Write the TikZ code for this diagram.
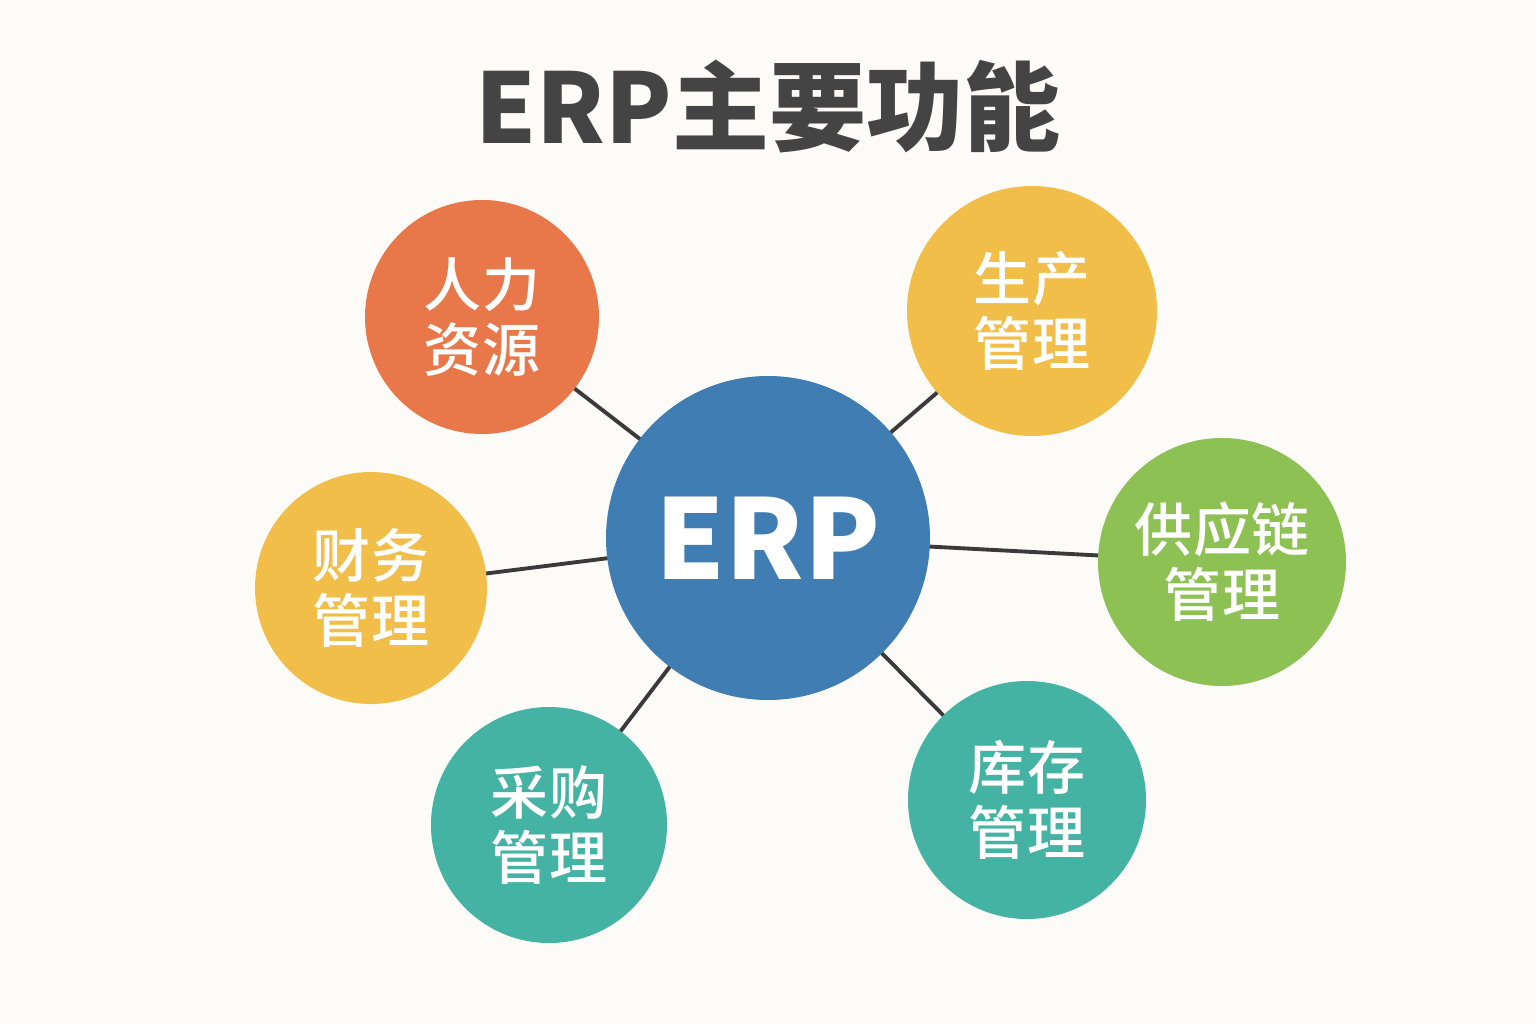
\documentclass[tikz,border=0pt]{standalone}
\usepackage{fontspec}
\newfontfamily\cjk{Noto Sans CJK SC}
\IfFontExistsTF{Noto Sans CJK SC Medium}
  {\newfontfamily\cjkmed{Noto Sans CJK SC Medium}}
  {\newcommand\cjkmed{\cjk\bfseries}}
\definecolor{bgc}{HTML}{FCFBF7}
\definecolor{orangec}{HTML}{E8784A}
\definecolor{yellowc}{HTML}{F2BE4A}
\definecolor{greenc}{HTML}{8DC153}
\definecolor{tealc}{HTML}{45B3A3}
\definecolor{bluec}{HTML}{3F7DB3}
\definecolor{titlec}{HTML}{444444}
\definecolor{linec}{HTML}{3A3A3A}
\begin{document}
\begin{tikzpicture}[x=0.01cm,y=-0.01cm,
  hub/.style={circle,fill=bluec,minimum size=324*0.01cm,inner sep=0pt,text=white,font=\cjk\bfseries\fontsize{31.5}{36}\selectfont},
  mod/.style={circle,inner sep=0pt,text=white,align=center,font=\cjkmed\fontsize{16.5}{18.5}\selectfont},
  link/.style={draw=linec,line width=1.1pt}]
\fill[bgc] (0,0) rectangle (1536,1024);
\useasboundingbox (0,0) rectangle (1536,1024);
\node[text=titlec,font=\cjk\bfseries\fontsize{27.6}{32}\selectfont] (title) at (768,107) {ERP主要功能};
\coordinate (c0) at (768,538);
\coordinate (c1) at (482,317);
\coordinate (c2) at (1032,311);
\coordinate (c3) at (371,588);
\coordinate (c4) at (1222,562);
\coordinate (c5) at (549,825);
\coordinate (c6) at (1027,800);
\draw[link] (c0) -- (c1);
\draw[link] (c0) -- (c2);
\draw[link] (c0) -- (c3);
\draw[link] (c0) -- (c4);
\draw[link] (c0) -- (c5);
\draw[link] (c0) -- (c6);
\node[hub] (erp) at (c0) {ERP};
\node[mod,fill=orangec,minimum size=234*0.01cm] (hr) at (c1) {人力\\资源};
\node[mod,fill=yellowc,minimum size=250*0.01cm] (prod) at (c2) {生产\\管理};
\node[mod,fill=yellowc,minimum size=232*0.01cm] (fin) at (c3) {财务\\管理};
\node[mod,fill=greenc,minimum size=248*0.01cm] (scm) at (c4) {供应链\\管理};
\node[mod,fill=tealc,minimum size=236*0.01cm] (pur) at (c5) {采购\\管理};
\node[mod,fill=tealc,minimum size=238*0.01cm] (inv) at (c6) {库存\\管理};
\end{tikzpicture}
\end{document}
